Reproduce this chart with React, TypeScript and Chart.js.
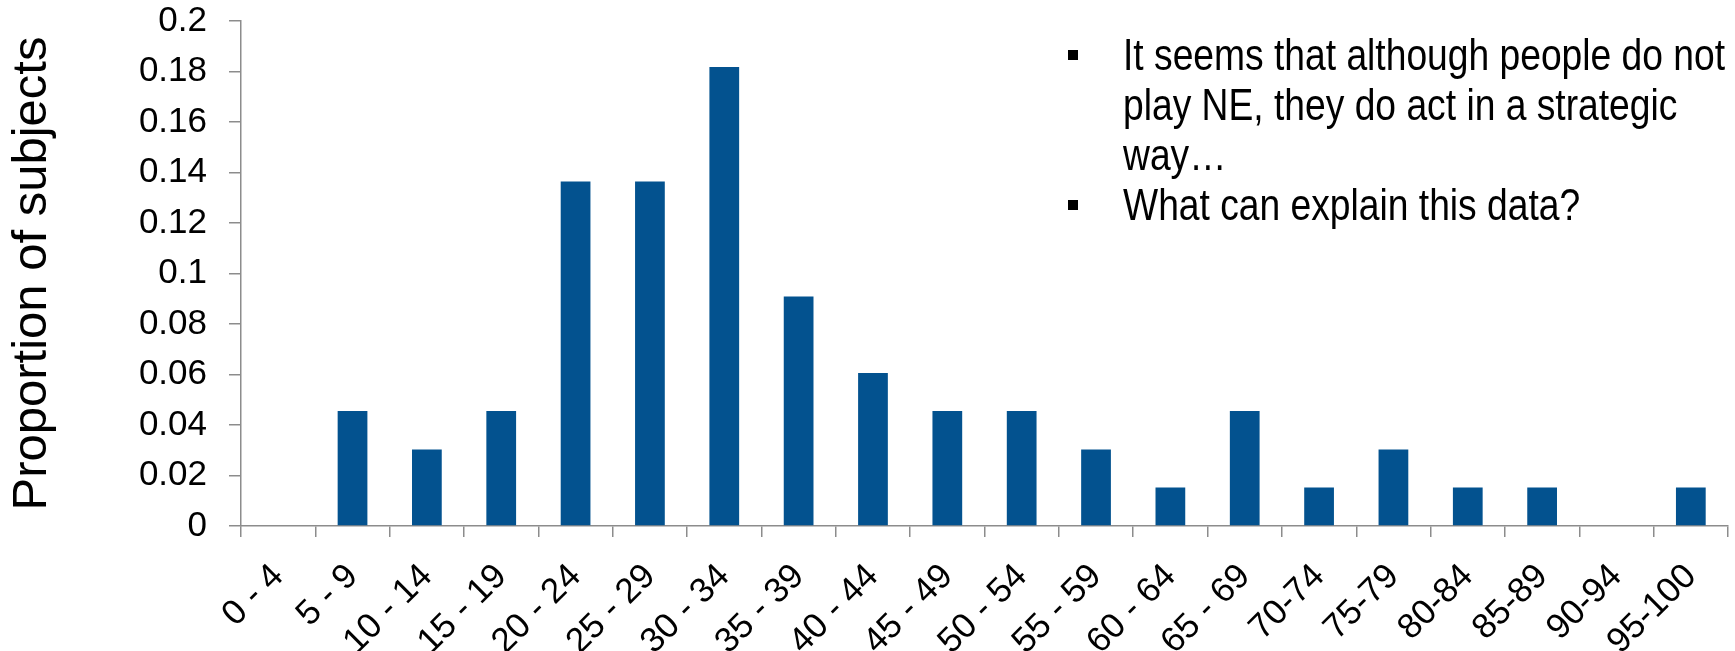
import React, { useEffect, useRef } from "react";
import { Chart, registerables } from "chart.js";

Chart.register(...registerables);

const categories = [
  "0 - 4", "5 - 9", "10 - 14", "15 - 19", "20 - 24", "25 - 29", "30 - 34",
  "35 - 39", "40 - 44", "45 - 49", "50 - 54", "55 - 59", "60 - 64", "65 - 69",
  "70-74", "75-79", "80-84", "85-89", "90-94", "95-100",
];

const proportions = [
  0, 0.0455, 0.0303, 0.0455, 0.1364, 0.1364, 0.1818, 0.0909, 0.0606, 0.0455,
  0.0455, 0.0303, 0.0152, 0.0455, 0.0152, 0.0303, 0.0152, 0.0152, 0, 0.0152,
];

const yTicks = [0, 0.02, 0.04, 0.06, 0.08, 0.1, 0.12, 0.14, 0.16, 0.18, 0.2];

const yTitle = "Proportion of subjects";

const bullets = [
  ["It seems that although people do not", "play NE, they do act in a strategic", "way…"],
  ["What can explain this data?"],
];

const FONT = "'Liberation Sans', Arial, Helvetica, sans-serif";
const AXIS_GRAY = "#8c8c8c";
const BAR_BLUE = "#03528F";

export default function App() {
  const canvasRef = useRef<HTMLCanvasElement | null>(null);

  useEffect(() => {
    if (!canvasRef.current) return;
    const chart = new Chart(canvasRef.current, {
      type: "bar",
      data: {
        labels: categories,
        datasets: [
          {
            data: proportions,
            backgroundColor: BAR_BLUE,
            borderWidth: 0,
            barPercentage: 0.4,
            categoryPercentage: 1.0,
          },
        ],
      },
      options: {
        animation: false,
        responsive: true,
        maintainAspectRatio: false,
        layout: { padding: { top: 0, right: 7, bottom: 0, left: 0 } },
        plugins: {
          legend: { display: false },
          tooltip: { enabled: false },
        },
        scales: {
          x: {
            offset: true,
            grid: {
              display: true,
              offset: true,
              drawOnChartArea: false,
              drawTicks: true,
              tickLength: 11,
              color: AXIS_GRAY,
              lineWidth: 1.5,
            },
            border: { display: true, color: AXIS_GRAY, width: 1.5 },
            ticks: {
              color: "#000",
              font: { family: FONT, size: 35 },
              minRotation: 45,
              maxRotation: 45,
              autoSkip: false,
              padding: 19,
            },
            afterFit: (scale: any) => {
              scale.height = 125;
              scale.paddingLeft = 0;
              scale.paddingRight = 0;
            },
          },
          y: {
            min: 0,
            max: 0.2,
            afterBuildTicks: (scale: any) => {
              scale.ticks = yTicks.map((v) => ({ value: v }));
            },
            grid: {
              display: true,
              drawOnChartArea: false,
              drawTicks: true,
              tickLength: 12,
              color: AXIS_GRAY,
              lineWidth: 1.5,
            },
            border: { display: true, color: AXIS_GRAY, width: 1.5 },
            ticks: {
              color: "#000",
              font: { family: FONT, size: 35 },
              padding: 22,
              callback: (v: any) => String(Number(Number(v).toFixed(2))),
            },
            title: {
              display: true,
              text: yTitle,
              color: "#000",
              font: { family: FONT, size: 49 },
              padding: { top: 3, bottom: 0 },
            },
            afterFit: (scale: any) => {
              scale.width = 241;
              scale.paddingTop = 21;
              scale.paddingBottom = 0;
            },
          },
        },
      },
    });
    return () => chart.destroy();
  }, []);

  return (
    <div
      style={{
        position: "fixed",
        left: 0,
        top: 0,
        width: 1735,
        height: 651,
        background: "#fff",
      }}
    >
      <canvas ref={canvasRef} />
      <div
        style={{
          position: "absolute",
          left: 1068,
          top: 30,
          fontFamily: FONT,
          fontSize: 45,
          lineHeight: "50px",
          color: "#000",
        }}
      >
        {bullets.map((lines, i) => (
          <div key={i} style={{ position: "relative" }}>
            <span
              style={{
                position: "absolute",
                left: 0,
                top: 20,
                width: 10,
                height: 10,
                background: "#000",
              }}
            />
            <div
              style={{
                marginLeft: 55,
                transform: "scaleX(0.827)",
                transformOrigin: "left top",
                whiteSpace: "nowrap",
              }}
            >
              {lines.map((l, j) => (
                <div key={j}>{l}</div>
              ))}
            </div>
          </div>
        ))}
      </div>
    </div>
  );
}
